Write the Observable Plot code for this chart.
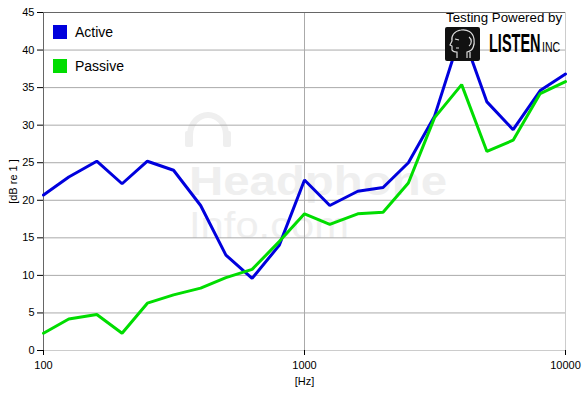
<!DOCTYPE html>
<html>
<head>
<meta charset="utf-8">
<script src="https://cdn.jsdelivr.net/npm/d3@7"></script>
<script src="https://cdn.jsdelivr.net/npm/@observablehq/plot@0.6"></script>
<style>
  html, body { margin: 0; padding: 0; background: #fff; }
  #wrap { position: relative; width: 583px; height: 395px; font-family: "Liberation Sans", Arial, sans-serif; }
  #wm { position: absolute; left: 0; top: 0; width: 583px; height: 395px; z-index: 0; }
  #chart { position: absolute; left: 0; top: 0; z-index: 1; }
  .ov { position: absolute; z-index: 2; }
</style>
</head>
<body>
<div id="wrap">
  <svg id="wm" width="583" height="395">
    <g fill="none" stroke="#efefef" stroke-width="6">
      <path d="M190,135 a18,20 0 0 1 36,0"/>
    </g>
    <g fill="#efefef" font-family="Liberation Sans, Arial, sans-serif">
      <rect x="185" y="131" width="8" height="16" rx="2"/>
      <rect x="223" y="131" width="8" height="16" rx="2"/>
      <text x="189" y="195" font-size="41" font-weight="bold" textLength="258" lengthAdjust="spacingAndGlyphs">Headphone</text>
      <text x="189" y="238" font-size="37" textLength="160" lengthAdjust="spacingAndGlyphs">Info.com</text>
    </g>
  </svg>
  <div id="chart"></div>
  <div class="ov" style="left:53px;top:25px;width:14px;height:14px;background:#0000dd"></div>
  <div class="ov" style="left:75px;top:24px;font-size:14px;color:#000">Active</div>
  <div class="ov" style="left:53px;top:59px;width:14px;height:14px;background:#00dd00"></div>
  <div class="ov" style="left:75px;top:58px;font-size:14px;color:#000">Passive</div>
  <div class="ov" style="left:446px;top:10px;font-size:13.3px;color:#000;white-space:nowrap">Testing Powered by</div>
  <svg class="ov" style="left:445px;top:27px" width="136" height="36">
    <rect x="0" y="0" width="35" height="34" rx="2" fill="#111"/>
    <g fill="none" stroke="#ddd" stroke-width="1.2">
      <path d="M22,31 L22,25 C28,24 30,18 29,12 C28,5 22,2 16,3 C9,4 6,9 7,14 L5,18 L7,19 L7,23 C8,25 11,25 12,25 L12,31"/>
      <path d="M10,12 L14,13 M11,21 L14,21"/>
      <path d="M24,10 C27,12 27,17 24,19 M25,25 L25,31"/>
    </g>
    <text transform="translate(44,25) scale(0.58,1)" font-family="Liberation Sans, Arial, sans-serif" font-weight="bold" font-size="25" fill="#000">LISTEN</text>
    <text transform="translate(97,25) scale(0.75,1)" font-family="Liberation Sans, Arial, sans-serif" font-size="14" fill="#000">INC</text>
  </svg>
</div>
<script>
const freqs = [100,125,160,200,250,315,400,500,630,800,1000,1250,1600,2000,2500,3150,4000,5000,6300,8000,10000];
const active = [20.7,23.1,25.2,22.2,25.2,24.0,19.3,12.7,9.6,14.0,22.7,19.3,21.2,21.7,25.0,31.2,42.5,33.1,29.4,34.6,36.8];
const passive = [2.3,4.2,4.8,2.3,6.3,7.4,8.3,9.7,10.8,14.5,18.2,16.8,18.2,18.4,22.3,31.0,35.4,26.5,28.0,34.2,35.8];
const xTicks = [100,1000,10000];
const yTicks = [0,5,10,15,20,25,30,35,40,45];
const seriesNames = ["Active","Passive"];
const seriesColors = ["#0000dd","#00dd00"];

const activeData = freqs.map((f,i)=>({f, v: active[i]}));
const passiveData = freqs.map((f,i)=>({f, v: passive[i]}));

const chart = Plot.plot({
  width: 583,
  height: 395,
  marginLeft: 43,
  marginRight: 18,
  marginTop: 12,
  marginBottom: 45,
  style: {background: "transparent", fontFamily: "Liberation Sans, Arial, sans-serif", fontSize: "11px", color: "#000"},
  x: {type: "log", domain: [100, 10000]},
  y: {domain: [0, 45]},
  marks: [
    Plot.gridY(yTicks, {stroke: "#aaa", strokeOpacity: 1}),
    Plot.gridX([1000], {stroke: "#aaa", strokeOpacity: 1}),
    Plot.ruleX([10000], {stroke: "#ccc"}),
    Plot.ruleY([0], {stroke: "#ccc"}),
    Plot.ruleY([45], {stroke: "#666"}),
    Plot.ruleX([100], {stroke: "#666"}),
    Plot.axisY(yTicks, {tickSize: 6, tickPadding: 3, fontSize: 11, label: "[dB re 1 ]", labelAnchor: "center", labelArrow: "none", labelOffset: 34, tickFormat: d => d}),
    Plot.axisX(xTicks, {tickSize: 5, tickPadding: 6, fontSize: 11, label: "[Hz]", labelAnchor: "center", labelArrow: "none", labelOffset: 34, tickFormat: d => String(d)}),
    Plot.line(activeData, {x: "f", y: "v", stroke: seriesColors[0], strokeWidth: 3, strokeLinejoin: "miter"}),
    Plot.line(passiveData, {x: "f", y: "v", stroke: seriesColors[1], strokeWidth: 3, strokeLinejoin: "miter"})
  ]
});
document.getElementById("chart").appendChild(chart);
</script>
</body>
</html>
